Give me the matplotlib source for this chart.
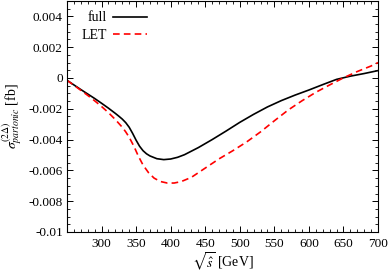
import matplotlib
matplotlib.use("Agg")
import matplotlib.pyplot as plt
from matplotlib.ticker import MultipleLocator, FixedLocator

plt.rcParams['font.family'] = ['Liberation Serif', 'DejaVu Serif']
plt.rcParams['mathtext.fontset'] = 'stix'

# Data
x_full = [250, 260, 270, 280, 290, 300, 310, 320, 325, 330, 335, 340, 345, 350, 355, 360, 365, 370, 380, 390,
          400, 410, 420, 440, 460, 480, 500, 520, 540, 560, 580, 600, 620, 640, 660, 680, 700]
y_full = [-0.00015, -0.00045, -0.00075, -0.00104, -0.00133, -0.00164, -0.00196, -0.0023, -0.00248, -0.00267,
          -0.0029, -0.0032, -0.0036, -0.00404, -0.00443, -0.00472, -0.00492, -0.00506, -0.00524, -0.0053,
          -0.00526, -0.00515, -0.00498, -0.00452, -0.004, -0.00345, -0.00288, -0.00236, -0.00188, -0.00147,
          -0.00111, -0.00078, -0.00043, -0.00009, 0.00012, 0.00029, 0.00048]
x_let = [250, 260, 270, 280, 290, 300, 310, 320, 330, 335, 340, 347, 353, 360, 368, 376, 385, 395, 405, 415,
         430, 450, 470, 490, 510, 530, 550, 570, 590, 610, 630, 650, 670, 690, 700]
y_let = [-0.00015, -0.00047, -0.0008, -0.00113, -0.00148, -0.00185, -0.00225, -0.0027, -0.0032, -0.0035,
         -0.00385, -0.00445, -0.00505, -0.00565, -0.00615, -0.0065, -0.00672, -0.00682, -0.00682, -0.00673,
         -0.00645, -0.00585, -0.00525, -0.00472, -0.00415, -0.0035, -0.00278, -0.00208, -0.00148, -0.00093,
         -0.00045, 0.00001, 0.00042, 0.00078, 0.001]

xticks = [300, 350, 400, 450, 500, 550, 600, 650, 700]
yticks = [-0.01, -0.008, -0.006, -0.004, -0.002, 0, 0.002, 0.004]
ytick_labels = ['-0.01', '-0.008', '-0.006', '-0.004', '-0.002', '0', '0.002', '0.004']

fig = plt.figure(figsize=(3.88, 2.74), dpi=100)
ax = fig.add_axes([67/388, 1-232/274, (378-67)/388, (232-1)/274])

ax.plot(x_full, y_full, color='black', lw=1.2, label='full')
ax.plot(x_let, y_let, color='red', lw=1.2, ls=(0, (4, 2.5)), label='LET')

ax.set_xlim(250, 700)
ax.set_ylim(-0.01, 0.005)
ax.xaxis.set_major_locator(FixedLocator(xticks))
ax.xaxis.set_minor_locator(MultipleLocator(10))
ax.yaxis.set_major_locator(FixedLocator(yticks))
ax.set_yticklabels(ytick_labels)
ax.yaxis.set_minor_locator(MultipleLocator(0.0005))
ax.tick_params(which='both', direction='in', top=True, right=True, labelsize=9.5)
ax.tick_params(axis='y', pad=3)
ax.tick_params(axis='x', pad=4)
ax.tick_params(which='major', length=4, width=0.7)
ax.tick_params(which='minor', length=2, width=0.6)
for s in ax.spines.values():
    s.set_linewidth(0.8)

ax.set_xlabel(r'$\sqrt{\hat{s}}$ [GeV]', fontsize=10, labelpad=1)
ax.set_ylabel(r'$\sigma^{(2\Delta)}_{partonic}$ [fb]', fontsize=10, labelpad=3)

leg = ax.legend(loc='upper left', frameon=False, markerfirst=False, fontsize=10,
                handlelength=2.45, handletextpad=0.45, borderaxespad=0, borderpad=0,
                labelspacing=0.3, bbox_to_anchor=(0.047, 0.955))

fig.savefig('out.png', dpi=100)
